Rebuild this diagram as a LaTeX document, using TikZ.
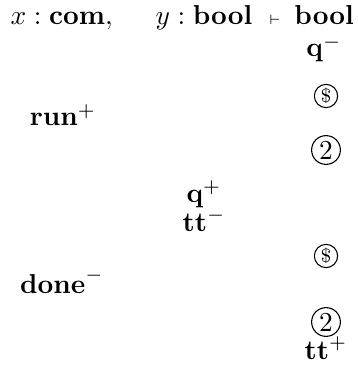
\documentclass[tikz,border=0pt]{standalone}
\usepackage{amsmath,amssymb}
\usepackage{tikz}

\begin{document}
\begin{tikzpicture}[x=0.365pt,y=-0.365pt,
    move/.style={anchor=base,inner sep=0pt},
    coin/.style={circle,draw,inner sep=0pt,minimum size=#1}]
  \useasboundingbox (0,0) rectangle (358,371);
  \node[anchor=base west,inner sep=0pt] (judg) at (10,25)
    {$x:\mathbf{com},\hspace{14pt}y:\mathbf{bool}\hspace{6pt}{\scriptscriptstyle\vdash}\hspace{5pt}\mathbf{bool}$};
  \node[move] (qo) at (324,57) {$\mathbf{q}^-$};
  \node[coin=8.5pt] (s1) at (326,96) {\scriptsize\$};
  \node[move] (run) at (63,126) {$\mathbf{run}^+$};
  \node[coin=10.5pt] (c1) at (326,150) {2};
  \node[move] (qi) at (204,202) {$\mathbf{q}^+$};
  \node[move] (tti) at (204,231) {$\mathbf{tt}^-$};
  \node[coin=8.5pt] (s2) at (326,256) {\scriptsize\$};
  \node[move] (done) at (62,293) {$\mathbf{done}^-$};
  \node[coin=10.5pt] (c2) at (326,322) {2};
  \node[move] (tto) at (326,359) {$\mathbf{tt}^+$};
\end{tikzpicture}
\end{document}
